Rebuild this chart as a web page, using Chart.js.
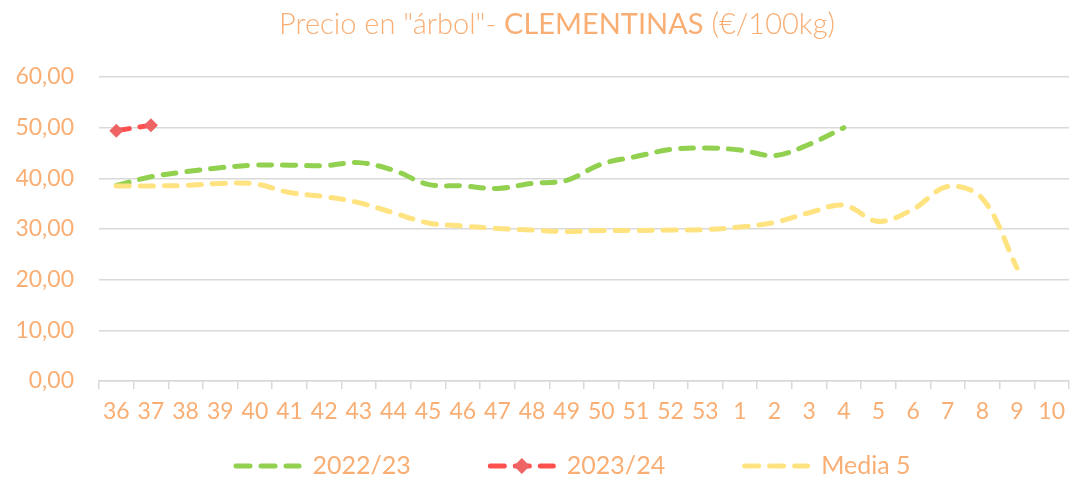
<!DOCTYPE html>
<html>
<head>
<meta charset="utf-8">
<script src="https://cdn.jsdelivr.net/npm/chart.js@4"></script>
<style>
  html, body { margin: 0; padding: 0; background: #fff; }
  #chart { display: block; }
</style>
</head>
<body>
<canvas id="chart" width="1076" height="483"></canvas>
<script>
// Semanas de campaña
const weeks = ['36','37','38','39','40','41','42','43','44','45','46','47','48','49','50','51','52','53',
               '1','2','3','4','5','6','7','8','9','10'];

// Precio 2022/23
const season2022 = [38.6, 40.3, 41.3, 42.1, 42.6, 42.6, 42.5, 43.1, 41.6, 38.8, 38.5, 38.0, 39.0, 39.6,
                    42.8, 44.3, 45.7, 46.0, 45.6, 44.5, 46.7, 50.0, null, null, null, null, null, null];

// Precio 2023/24
const season2023 = [49.4, 50.5, null, null, null, null, null, null, null, null, null, null, null, null,
                    null, null, null, null, null, null, null, null, null, null, null, null, null, null];

// Media de 5 campañas
const media5 = [38.5, 38.5, 38.6, 39.0, 38.9, 37.2, 36.4, 35.2, 33.2, 31.2, 30.6, 30.1, 29.8, 29.5,
                29.7, 29.7, 29.8, 29.9, 30.4, 31.3, 33.2, 34.7, 31.5, 33.9, 38.4, 36.0, 22.3, null];

const yTicks = [0, 10, 20, 30, 40, 50, 60];

const TEXT = '#F9AE74';
const GRID = '#D9D9D9';
const GREEN = '#92D050';
const RED = '#FF5050';
const RED_MARK = '#EE6464';
const YELLOW = '#FFE381';
const DASH = [13, 11];

function formatComma(v) {
    return v.toFixed(2).replace('.', ',');
}

// Draw title with two weights
const titlePlugin = {
    id: 'customTitle',
    afterDraw(chart) {
        const ctx = chart.ctx;
        const parts = [
            { text: 'Precio en "árbol"- ', font: '300 29px Lato' },
            { text: 'CLEMENTINAS', font: '400 29px Lato' },
            { text: ' (€/100kg)', font: '300 29px Lato' }
        ];
        let total = 0;
        parts.forEach(p => { ctx.font = p.font; p.w = ctx.measureText(p.text).width; total += p.w; });
        let x = 557 - total / 2;
        ctx.save();
        ctx.fillStyle = TEXT;
        ctx.textBaseline = 'middle';
        ctx.textAlign = 'left';
        parts.forEach(p => { ctx.font = p.font; ctx.fillText(p.text, x, 25); x += p.w; });
        ctx.restore();
    }
};

// Legend drawn by hand (dashed samples, diamond for 2023/24)
const legendPlugin = {
    id: 'customLegend',
    afterDraw(chart) {
        const ctx = chart.ctx;
        const items = chart.data.datasets.map(ds => ({
            label: ds.label, color: ds.borderColor, marker: ds.pointRadius > 0 ? ds.pointBackgroundColor : null
        }));
        ctx.save();
        ctx.font = '25px Lato';
        const sampleW = 68, gapText = 11, gapItem = 77;
        let total = 0;
        items.forEach((it, i) => {
            it.tw = ctx.measureText(it.label).width;
            total += sampleW + gapText + it.tw + (i < items.length - 1 ? gapItem : 0);
        });
        let x = 572 - total / 2;
        const y = 466;
        items.forEach(it => {
            ctx.strokeStyle = it.color;
            ctx.lineWidth = 5;
            ctx.lineCap = 'round';
            ctx.setLineDash([14, 11]);
            ctx.beginPath();
            ctx.moveTo(x + 2.5, y);
            ctx.lineTo(x + sampleW - 2.5, y);
            ctx.stroke();
            ctx.setLineDash([]);
            if (it.marker) {
                const cx = x + sampleW / 2, r = 8;
                ctx.fillStyle = it.marker;
                ctx.beginPath();
                ctx.moveTo(cx, y - r); ctx.lineTo(cx + r, y); ctx.lineTo(cx, y + r); ctx.lineTo(cx - r, y);
                ctx.closePath();
                ctx.fill();
            }
            ctx.fillStyle = TEXT;
            ctx.textBaseline = 'middle';
            ctx.textAlign = 'left';
            ctx.fillText(it.label, x + sampleW + gapText, y);
            x += sampleW + gapText + it.tw + gapItem;
        });
        ctx.restore();
    }
};

const ctx = document.getElementById('chart').getContext('2d');
new Chart(ctx, {
    type: 'line',
    data: {
        labels: weeks,
        datasets: [
            {
                label: '2022/23',
                data: season2022,
                borderColor: GREEN,
                borderWidth: 5,
                borderDash: DASH,
                borderCapStyle: 'round',
                pointRadius: 0,
                tension: 0.35,
                order: 2
            },
            {
                label: '2023/24',
                data: season2023,
                borderColor: RED,
                borderWidth: 5,
                borderDash: DASH,
                borderCapStyle: 'round',
                pointStyle: 'rectRot',
                pointRadius: 7,
                pointBorderWidth: 0,
                pointBackgroundColor: RED_MARK,
                tension: 0.35,
                order: 1
            },
            {
                label: 'Media 5',
                data: media5,
                borderColor: YELLOW,
                borderWidth: 5,
                borderDash: DASH,
                borderCapStyle: 'round',
                pointRadius: 0,
                tension: 0.35,
                order: 0
            }
        ]
    },
    options: {
        responsive: false,
        animation: false,
        spanGaps: false,
        layout: { padding: { top: 77, right: 6, left: 0, bottom: 0 } },
        plugins: {
            legend: { display: false },
            title: { display: false },
            tooltip: { enabled: false }
        },
        scales: {
            y: {
                min: 0,
                max: 60,
                afterBuildTicks(scale) { scale.ticks = yTicks.map(v => ({ value: v })); },
                afterFit(scale) { scale.width = 99; },
                ticks: {
                    color: TEXT,
                    font: { family: 'Lato', size: 23 },
                    padding: 25,
                    callback: v => formatComma(v)
                },
                grid: { color: GRID, lineWidth: 1.5, drawTicks: false },
                border: { display: false }
            },
            x: {
                offset: true,
                afterFit(scale) { scale.height = 102; },
                ticks: {
                    color: TEXT,
                    font: { family: 'Lato', size: 23 },
                    autoSkip: false,
                    maxRotation: 0,
                    padding: 9
                },
                grid: { offset: true, drawOnChartArea: false, color: GRID, lineWidth: 1.5, tickLength: 8 },
                border: { color: GRID, width: 1.5 }
            }
        }
    },
    plugins: [titlePlugin, legendPlugin]
});
</script>
</body>
</html>
